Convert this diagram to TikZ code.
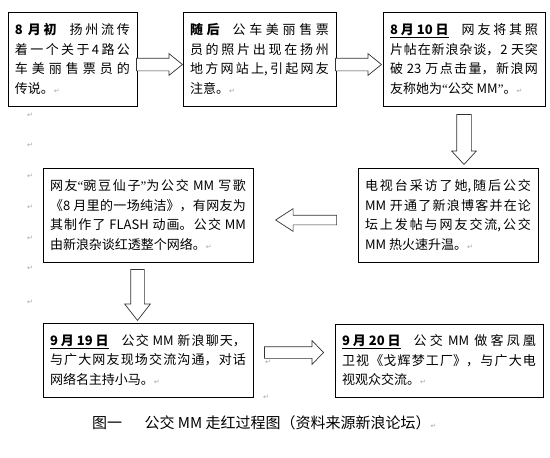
\documentclass[tikz,border=0pt]{standalone}
\usepackage{fontspec}
\setmainfont{Noto Sans CJK SC}
\newfontfamily\markfont{DejaVu Sans}
\newfontfamily\quotefont{Liberation Serif}
\usepackage{tikz}
\usetikzlibrary{shapes.arrows}
\XeTeXlinebreaklocale "zh"
\XeTeXlinebreakskip=0pt plus 2pt
\hbadness=10000
\newcommand{\retmark}{{\markfont\color{gray!70}\fontsize{7}{7}\selectfont ↵}}
\newcommand{\datebf}[1]{\underline{\textbf{#1}}}
\newcommand{\oq}{{\quotefont “}}
\newcommand{\cq}{{\quotefont ”}}

\begin{document}
\begin{tikzpicture}[x=1pt,y=-1pt,
  box/.style={draw, line width=1pt, fill=white, inner xsep=7pt, align=justify,
    font=\fontsize{13}{19.5}\selectfont},
  barrow/.style={single arrow, draw=black!80, line width=0.7pt, fill=white,
    inner xsep=0pt, anchor=tip}
]
\useasboundingbox (0,0) rectangle (550,458);

% top row
\node[box, text width=115pt, minimum height=94pt] (early) at (72.5,59)
  {\textbf{8 月初}\quad 扬州流传\linebreak 着一个关于4路公\linebreak 车美丽售票员的\linebreak 传说。\retmark};
\node[box, text width=139pt, minimum height=94pt] (photo) at (259.5,59)
  {\textbf{随后}\quad 公车美丽售票\linebreak 员的照片出现在扬州\linebreak 地方网站上,引起网友\linebreak 注意。\retmark};
\node[box, text width=148pt, minimum height=94pt] (sina) at (464,59)
  {\datebf{8 月 10 日}\quad 网友将其照\linebreak 片帖在新浪杂谈，2 天突\linebreak 破 23 万点击量，新浪网\linebreak 友称她为\oq 公交 MM\cq。\retmark};

% middle row
\node[box, text width=166pt, minimum height=94pt] (tv) at (448,215)
  {电视台采访了她,随后公交\linebreak MM 开通了新浪博客并在论\linebreak 坛上发帖与网友交流,公交\linebreak MM 热火速升温。\retmark};
\node[box, text width=196pt, minimum height=94pt] (song) at (148,215)
  {网友\oq 豌豆仙子\cq 为公交 MM 写歌\linebreak 《8 月里的一场纯洁》，有网友为\linebreak 其制作了 FLASH 动画。公交 MM\linebreak 由新浪杂谈红透整个网络。\retmark};

% bottom row
\node[box, text width=196pt, minimum height=74pt] (chat) at (148,360)
  {\datebf{9 月 19 日}\quad 公交 MM 新浪聊天，\linebreak 与广大网友现场交流沟通，对话\linebreak 网络名主持小马。\retmark};
\node[box, text width=194pt, minimum height=73pt] (phoenix) at (439,360.5)
  {\datebf{9 月 20 日}\quad 公交 MM 做客凤凰\linebreak 卫视《戈辉梦工厂》，与广大电\linebreak 视观众交流。\retmark};

% hollow block arrows, placed by their tips
\node[barrow, minimum height=46pt, inner ysep=6pt, single arrow head extend=4.5pt,
  single arrow tip angle=78] (a1) at (183,64.5) {};
\node[barrow, minimum height=46pt, inner ysep=6pt, single arrow head extend=4.5pt,
  single arrow tip angle=78] (a2) at (382,64.5) {};
\node[barrow, rotate=-90, minimum height=50pt, inner ysep=7pt, single arrow head extend=5pt,
  single arrow tip angle=85] (a3) at (464,165) {};
\node[barrow, rotate=180, minimum height=61pt, inner ysep=4.5pt, single arrow head extend=6.5pt,
  single arrow tip angle=66] (a4) at (275,220) {};
\node[barrow, rotate=-90, minimum height=51pt, inner ysep=6.5pt, single arrow head extend=6pt,
  single arrow tip angle=76] (a5) at (137.5,321) {};
\node[barrow, minimum height=59pt, inner ysep=5.5pt, single arrow head extend=6pt,
  single arrow tip angle=92] (a6) at (324,352.5) {};

% stray paragraph marks of the page
\foreach \y [count=\i] in {115,145,176,207,238,268,302}
  \node[inner sep=0pt] (pm\i) at (30,\y) {\retmark};
\node[inner sep=0pt] (pm8) at (268,362) {\retmark};
\node[inner sep=0pt] (pm9) at (266,397) {\retmark};

\node[font=\fontsize{15}{15}\selectfont, anchor=east] (caption) at (440,423)
  {图一\hspace{1.5em}公交 MM 走红过程图（资料来源新浪论坛）\retmark};
\end{tikzpicture}
\end{document}
